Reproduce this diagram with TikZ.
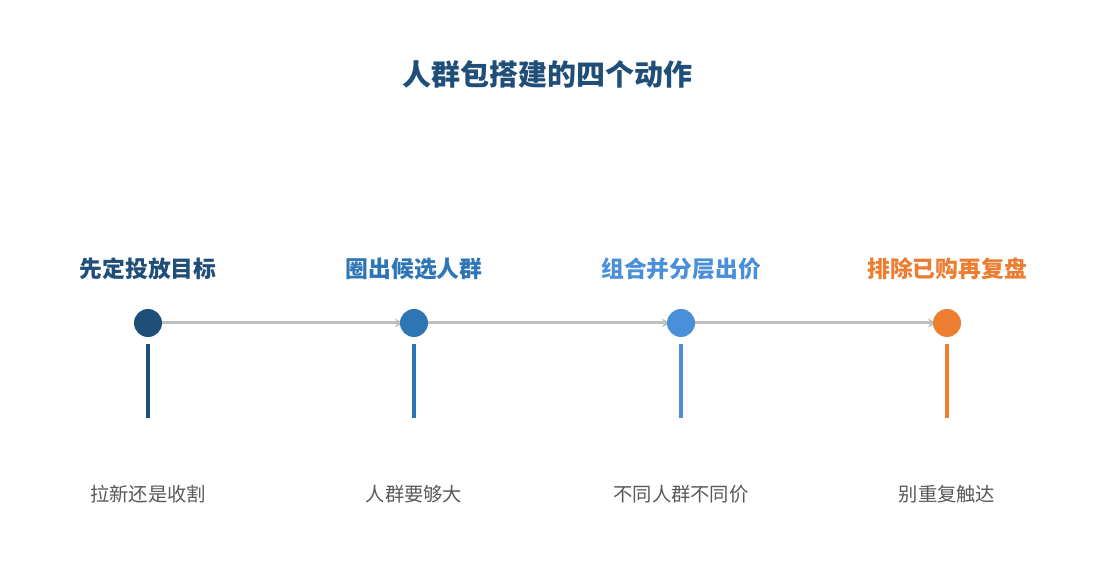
\documentclass[tikz,border=0pt]{standalone}
\usepackage{fontspec}
\newfontfamily\cjk{Noto Sans CJK SC}
\usetikzlibrary{arrows.meta}
\definecolor{c1}{HTML}{1F4E79}
\definecolor{c2}{HTML}{2E75B6}
\definecolor{c3}{HTML}{4A90D9}
\definecolor{c4}{HTML}{ED7D31}
\definecolor{lineg}{HTML}{BFBFBF}
\definecolor{txtg}{HTML}{595959}
\begin{document}
\begin{tikzpicture}[x=1pt,y=-1pt,
  dot/.style={circle,inner sep=0pt,minimum size=28pt,fill=#1},
  toplab/.style={font=\cjk\bfseries\fontsize{22.8}{26}\selectfont,text=#1,inner sep=0pt},
  botlab/.style={font=\cjk\fontsize{19.3}{23}\selectfont,text=txtg,inner sep=0pt},
  stem/.style={draw=#1,line width=3.5pt},
  link/.style={draw=lineg,line width=3pt,-{Stealth[length=8pt,width=9pt]},shorten >=11pt}]
\useasboundingbox[fill=white] (0,0) rectangle (1095,585);
\node[font=\cjk\bfseries\fontsize{29}{32}\selectfont,text=c1,inner sep=0pt] (title) at (547,74) {人群包搭建的四个动作};
\foreach \i/\x/\c/\t/\b in {1/148/c1/先定投放目标/拉新还是收割,2/414/c2/圈出候选人群/人群要够大,3/681/c3/组合并分层出价/不同人群不同价,4/947/c4/排除已购再复盘/别重复触达}{
  \coordinate (p\i) at (\x,323);
  \node[toplab=\c] (t\i) at (\x,269) {\t};
  \node[botlab] (b\i) at (\x,494) {\b};
  \coordinate (s\i) at (\x,344);
  \coordinate (e\i) at (\x,418);
  \draw[stem=\c] (s\i) -- (e\i);
}
\draw[link] (p1) -- (p2);
\draw[link] (p2) -- (p3);
\draw[link] (p3) -- (p4);
\node[dot=c1] (d1) at (p1) {};
\node[dot=c2] (d2) at (p2) {};
\node[dot=c3] (d3) at (p3) {};
\node[dot=c4] (d4) at (p4) {};
\end{tikzpicture}
\end{document}
